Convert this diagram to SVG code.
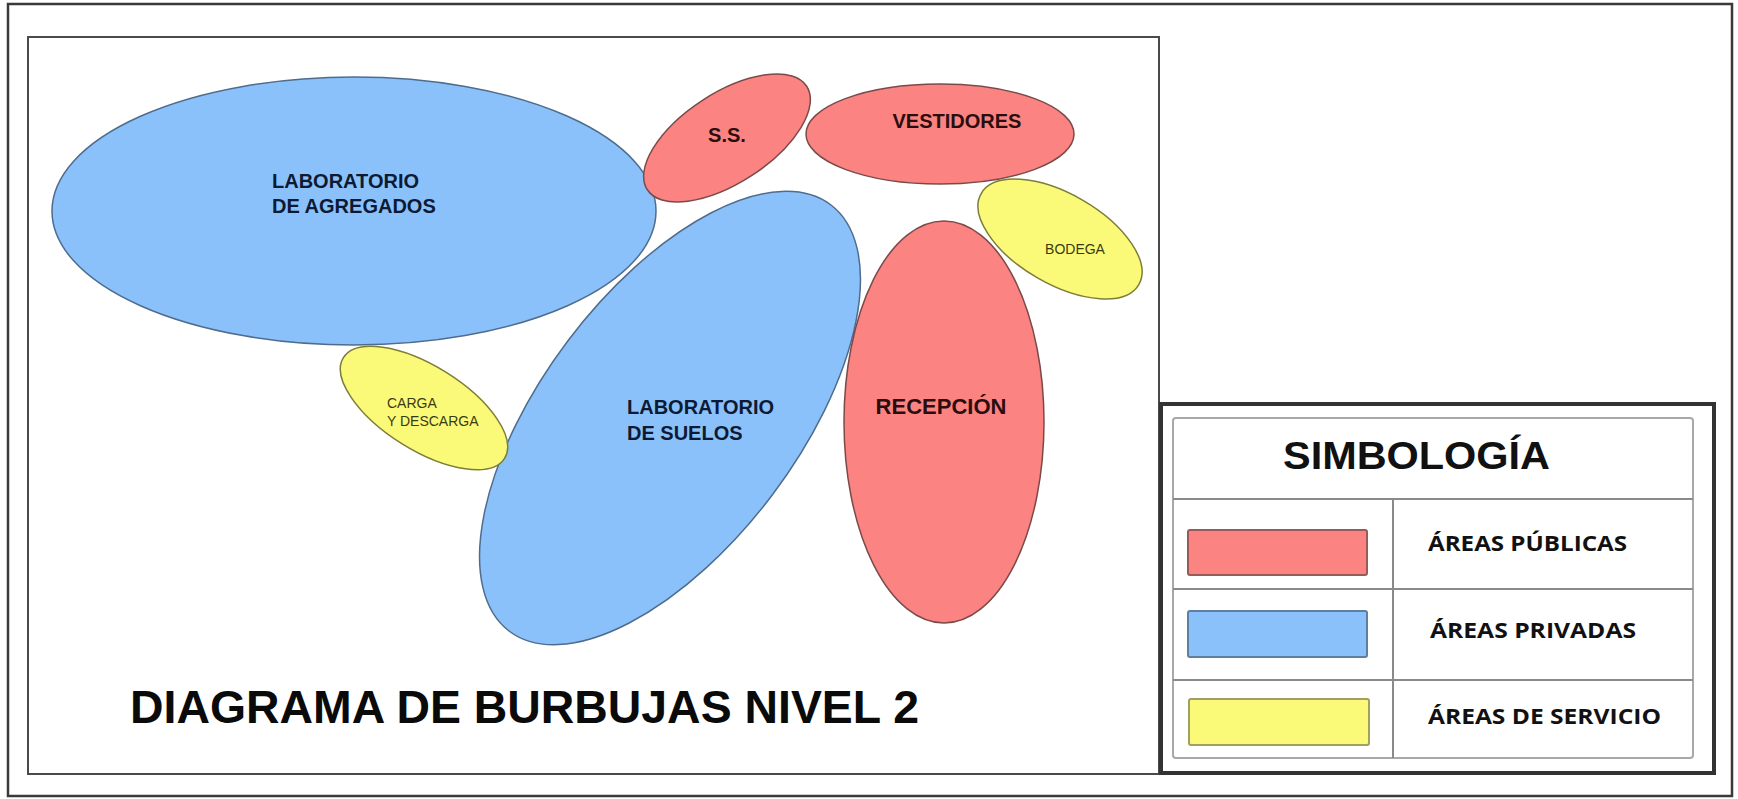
<svg xmlns="http://www.w3.org/2000/svg" width="1738" height="799" viewBox="0 0 1738 799">
<style>
.bg{fill:#ffffff}
.frame{fill:none;stroke:#4a4a4a;stroke-width:2}
.pub{fill:#fb8381;stroke:#7a4a4a;stroke-width:1.5}
.priv{fill:#8bc1fa;stroke:#4f6c8c;stroke-width:1.5}
.serv{fill:#fafa78;stroke:#7d7d3a;stroke-width:1.5}
.lb{font-family:"Liberation Sans",Arial,sans-serif;font-weight:bold}
.lr{font-family:"Liberation Sans",Arial,sans-serif}
.tb{fill:#0d1a33}
.tr{fill:#2a0d0d}
.ty{fill:#3a3a12}
.leg{font-family:"Open Sans","Liberation Sans",sans-serif;font-weight:bold;fill:#111}
</style>
<rect class="bg" x="0" y="0" width="1738" height="799"/>
<rect x="8" y="4" width="1724" height="792" fill="none" stroke="#3a3a3a" stroke-width="2.5"/>
<rect class="frame" x="28" y="37" width="1131" height="737"/>

<g id="lab-agregados">
<ellipse class="priv" cx="354" cy="211" rx="302" ry="134"/>
<text class="lb tb" font-size="20" x="272" y="188">LABORATORIO</text>
<text class="lb tb" font-size="20" x="272" y="213">DE AGREGADOS</text>
</g>

<g id="ss">
<ellipse class="pub" cx="727" cy="138" rx="95" ry="45" transform="rotate(-33 727 138)"/>
<text class="lb tr" font-size="20" x="727" y="142" text-anchor="middle">S.S.</text>
</g>

<g id="vestidores">
<ellipse class="pub" cx="940" cy="134" rx="134" ry="50"/>
<text class="lb tr" font-size="20" x="957" y="128" text-anchor="middle">VESTIDORES</text>
</g>

<g id="bodega">
<ellipse class="serv" cx="1060" cy="239" rx="91" ry="45" transform="rotate(30 1060 239)"/>
<text class="lr ty" font-size="14" x="1075" y="254" text-anchor="middle">BODEGA</text>
</g>

<g id="lab-suelos">
<ellipse class="priv" cx="670" cy="418" rx="267" ry="128" transform="rotate(-53 670 418)"/>
<text class="lb tb" font-size="20" x="627" y="414">LABORATORIO</text>
<text class="lb tb" font-size="20" x="627" y="440">DE SUELOS</text>
</g>

<g id="recepcion">
<ellipse class="pub" cx="944" cy="422" rx="100" ry="201"/>
<text class="lb tr" font-size="22" x="941" y="414" text-anchor="middle">RECEPCIÓN</text>
</g>

<g id="carga">
<ellipse class="serv" cx="424" cy="408" rx="95" ry="42" transform="rotate(32 424 408)"/>
<text class="lr ty" font-size="14" x="387" y="408">CARGA</text>
<text class="lr ty" font-size="14" x="387" y="426">Y DESCARGA</text>
</g>

<g id="connectors"></g>

<g id="title">
<text class="lb" fill="#0a0a0a" font-size="46" x="130" y="723" textLength="789" lengthAdjust="spacingAndGlyphs">DIAGRAMA DE BURBUJAS NIVEL 2</text>
</g>

<g id="legend">
<rect x="1161" y="404" width="553" height="369" fill="#fff" stroke="#333" stroke-width="4"/>
<rect x="1173" y="418" width="520" height="340" rx="3" fill="none" stroke="#a8a8a8" stroke-width="2"/>
<line x1="1173" y1="499" x2="1693" y2="499" stroke="#8a8a8a" stroke-width="2"/>
<line x1="1173" y1="589" x2="1693" y2="589" stroke="#8a8a8a" stroke-width="2"/>
<line x1="1173" y1="680" x2="1693" y2="680" stroke="#8a8a8a" stroke-width="2"/>
<line x1="1393" y1="499" x2="1393" y2="758" stroke="#8a8a8a" stroke-width="2"/>
<text class="lb" fill="#111" font-size="39" x="1283" y="469" textLength="267" lengthAdjust="spacingAndGlyphs">SIMBOLOGÍA</text>
<rect x="1188" y="530" width="179" height="45" rx="2" fill="#fb8381" stroke="#9a5a58" stroke-width="2"/>
<rect x="1188" y="611" width="179" height="46" rx="2" fill="#8bc1fa" stroke="#5f7f9f" stroke-width="2"/>
<rect x="1189" y="699" width="180" height="46" rx="2" fill="#fafa78" stroke="#a0a060" stroke-width="2"/>
<text class="leg" font-size="21" x="1428" y="551" textLength="199" lengthAdjust="spacingAndGlyphs">ÁREAS PÚBLICAS</text>
<text class="leg" font-size="21" x="1430" y="638" textLength="206" lengthAdjust="spacingAndGlyphs">ÁREAS PRIVADAS</text>
<text class="leg" font-size="21" x="1428" y="724" textLength="233" lengthAdjust="spacingAndGlyphs">ÁREAS DE SERVICIO</text>
</g>
</svg>
